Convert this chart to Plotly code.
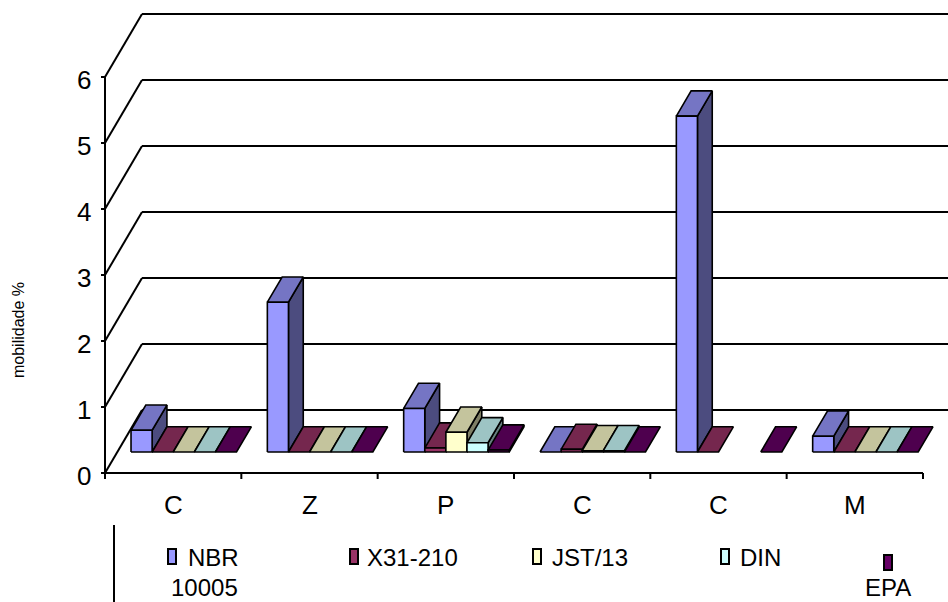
import plotly.graph_objects as go

# ---- data -------------------------------------------------------------
categories = ["C", "Z", "P", "C", "C", "M"]
series_names = ["NBR 10005", "X31-210", "JST/13", "DIN", "EPA"]
nbr = [0.33, 2.27, 0.66, 0.0, 5.09, 0.24]
x31 = [0.0, 0.0, 0.06, 0.04, 0.0, 0.0]
jst = [0.0, 0.0, 0.30, 0.02, None, 0.0]
din = [0.0, 0.0, 0.14, 0.02, None, 0.0]
epa = [0.0, 0.0, 0.03, 0.0, 0.0, 0.0]
series_values = [nbr, x31, jst, din, epa]
y_ticks = [0, 1, 2, 3, 4, 5, 6]
y_title = "mobilidade %"

# ---- styling ----------------------------------------------------------
face_colors = ["#9999FF", "#993366", "#FFFFCC", "#CCFFFF", "#660066"]
FONT = "Liberation Sans, Arial, sans-serif"

FIG_W, FIG_H = 948, 602
PX_PER_CAT = 136.33          # horizontal pixels per category
PX_PER_VAL = 66.0            # vertical pixels per value unit
X0_PX, Y0_PX = 105, 473      # front-plane origin in pixels

# oblique depth of the whole box (walls / floor)
WALL_DX = 37 / PX_PER_CAT
WALL_DY = 63 / PX_PER_VAL
# bars sit between these depth fractions
BAR_D0 = 0.333
BAR_DEPTH = 0.40
BAR_OFF = 13.7 / PX_PER_CAT  # gap before first bar of a category
BAR_W = 21.1 / PX_PER_CAT    # width of one bar


def shade(hex_color, f):
    h = hex_color.lstrip("#")
    r, g, b = (int(h[i:i + 2], 16) for i in (0, 2, 4))
    return "#%02x%02x%02x" % (int(r * f), int(g * f), int(b * f))


def px_to_paper(px, py):
    return px / FIG_W, 1 - py / FIG_H


fig = go.Figure()


def poly(xs, ys, fill, lw=1.6):
    fig.add_trace(go.Scatter(
        x=list(xs) + [xs[0]], y=list(ys) + [ys[0]],
        mode="lines", fill="toself", fillcolor=fill,
        line=dict(color="black", width=lw),
        hoverinfo="skip", showlegend=False))


def lines(xs, ys, lw=2):
    fig.add_trace(go.Scatter(
        x=xs, y=ys, mode="lines", line=dict(color="black", width=lw),
        hoverinfo="skip", showlegend=False))


n_cat = len(categories)

# back-wall gridlines and side-wall diagonals
gx, gy = [], []
for v in y_ticks:
    gx += [WALL_DX, n_cat + WALL_DX, None, 0, WALL_DX, None]
    gy += [v + WALL_DY, v + WALL_DY, None, v, v + WALL_DY, None]
lines(gx, gy, 2)

# front axes with tick marks
tick_x = 4 / PX_PER_CAT
tick_y = 6 / PX_PER_VAL
ax, ay = [0, 0, None, 0, n_cat, None], [y_ticks[0], y_ticks[-1], None, 0, 0, None]
for v in y_ticks:
    ax += [-tick_x, 0, None]
    ay += [v, v, None]
for k in range(n_cat + 1):
    ax += [k, k, None]
    ay += [0, -tick_y, None]
lines(ax, ay, 2)

# 3-D bars, painted left to right
bdx, bdy = BAR_DEPTH * WALL_DX, BAR_DEPTH * WALL_DY
base_y = BAR_D0 * WALL_DY
for i in range(n_cat):
    for j, vals in enumerate(series_values):
        v = vals[i]
        if v is None:
            continue
        col = face_colors[j]
        xa = i + BAR_OFF + j * BAR_W + BAR_D0 * WALL_DX
        xb = xa + BAR_W
        yt = base_y + v
        if v > 0:
            # right side face
            poly([xb, xb + bdx, xb + bdx, xb],
                 [base_y, base_y + bdy, yt + bdy, yt], shade(col, 0.5))
        # top face
        poly([xa, xb, xb + bdx, xa + bdx], [yt, yt, yt + bdy, yt + bdy],
             shade(col, 0.77))
        if v > 0:
            # front face
            poly([xa, xb, xb, xa], [base_y, base_y, yt, yt], col)

annotations = []
# value tick labels
for v in y_ticks:
    annotations.append(dict(
        x=-12 / PX_PER_CAT, y=v - 0.04, xref="x", yref="y", text=str(v),
        showarrow=False, xanchor="right", yanchor="middle",
        font=dict(family=FONT, size=26, color="black")))
# category labels
for k, c in enumerate(categories):
    annotations.append(dict(
        x=k + 0.5, y=-32 / PX_PER_VAL, xref="x", yref="y", text=c,
        showarrow=False, xanchor="center", yanchor="middle",
        font=dict(family=FONT, size=26, color="black")))
# axis title
annotations.append(dict(
    x=(18 - X0_PX) / PX_PER_CAT, y=(Y0_PX - 330) / PX_PER_VAL,
    xref="x", yref="y", text=y_title, textangle=-90, showarrow=False,
    xanchor="center", yanchor="middle",
    font=dict(family=FONT, size=16, color="black")))

# legend (wrapped entries, drawn by hand)
legend_marker_px = [(168, 549), (350, 549), (533, 549), (721, 549), (884, 555)]
legend_lines = [
    ("NBR", 186, 557), ("10005", 169, 587), ("X31-210", 365, 557),
    ("JST/13", 550, 557), ("DIN", 738, 557), ("EPA", 863, 587),
]
shapes = []
for (mx, my), col in zip(legend_marker_px, face_colors):
    x0, y1 = px_to_paper(mx, my)
    x1, y0 = px_to_paper(mx + 8, my + 15)
    shapes.append(dict(type="rect", xref="paper", yref="paper",
                       x0=x0, x1=x1, y0=y0, y1=y1, fillcolor=col,
                       line=dict(color="black", width=2)))
bx, by0 = px_to_paper(114, 525)
shapes.append(dict(type="line", xref="paper", yref="paper",
                   x0=bx, x1=bx, y0=by0, y1=0,
                   line=dict(color="black", width=2)))
for txt, lx, ly in legend_lines:
    xp, yp = px_to_paper(lx, ly)
    annotations.append(dict(
        x=xp, y=yp, xref="paper", yref="paper", text=txt, showarrow=False,
        xanchor="left", yanchor="middle",
        font=dict(family=FONT, size=24, color="black")))

fig.update_layout(
    width=FIG_W, height=FIG_H,
    margin=dict(l=0, r=0, t=0, b=0),
    paper_bgcolor="white", plot_bgcolor="white",
    xaxis=dict(range=[-X0_PX / PX_PER_CAT, (FIG_W - X0_PX) / PX_PER_CAT],
               visible=False, fixedrange=True),
    yaxis=dict(range=[(Y0_PX - FIG_H) / PX_PER_VAL, Y0_PX / PX_PER_VAL],
               visible=False, fixedrange=True),
    annotations=annotations, shapes=shapes, showlegend=False,
)

fig.write_html("out.html")
